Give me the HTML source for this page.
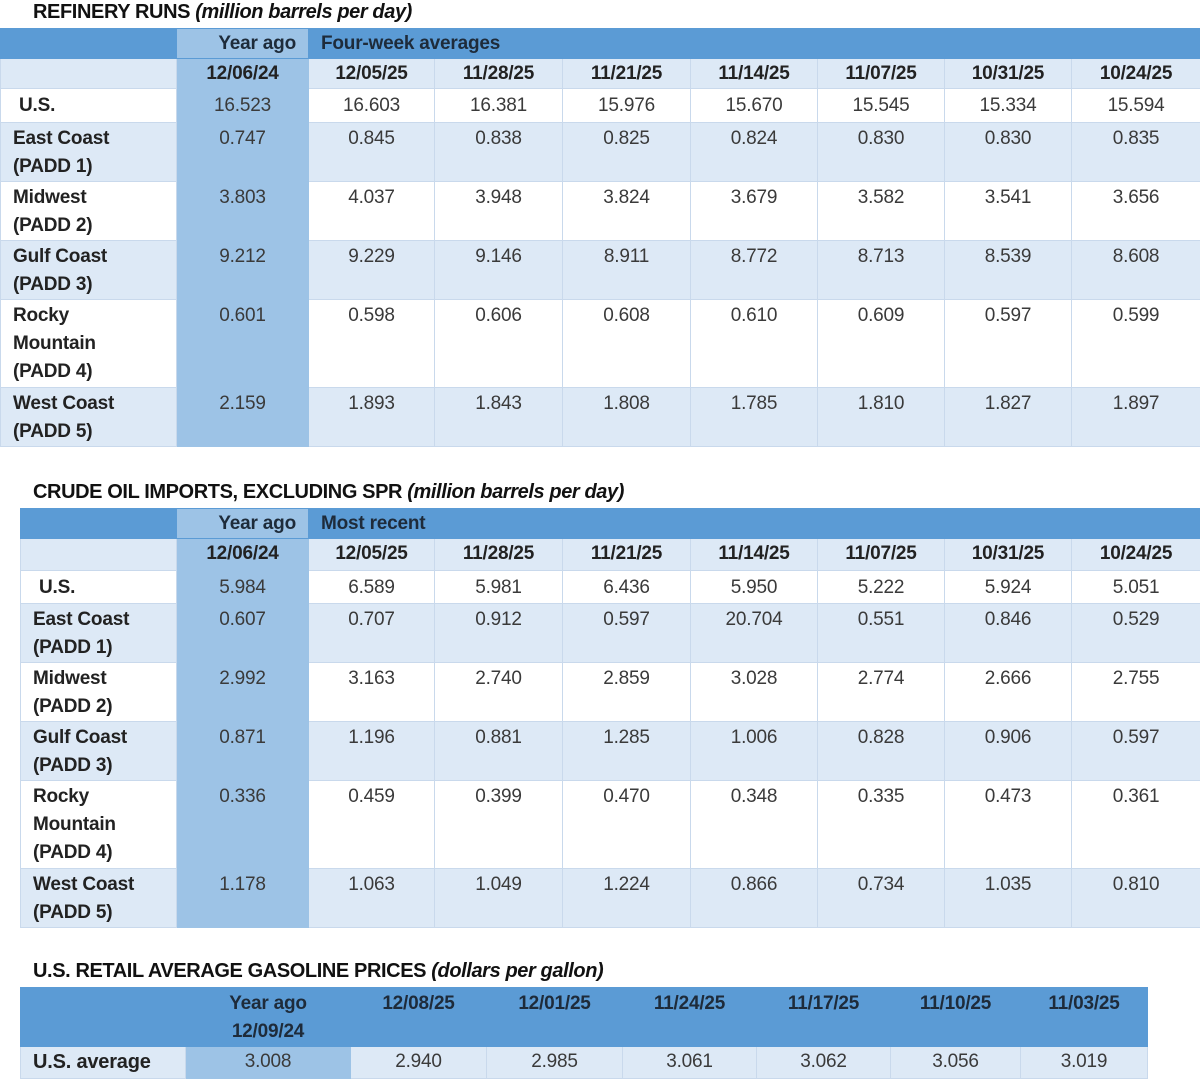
<!DOCTYPE html>
<html><head><meta charset="utf-8"><style>
body{margin:0;background:#fff;width:1200px;height:1086px;position:relative;font-family:"Liberation Sans",sans-serif;color:#3a3a3a;overflow:hidden}
.t{position:absolute;font-weight:bold;font-size:20px;color:#111;letter-spacing:-0.4px}
.t i{font-weight:bold}
table{position:absolute;border-collapse:collapse;table-layout:fixed;font-size:19px;letter-spacing:-0.2px}
td{padding:3px 0 0 0;vertical-align:top;text-align:center;line-height:28px;border:1px solid #c9d9ec;overflow:hidden;white-space:nowrap}
tr.m td{padding-top:2px}
td.l{text-align:left;padding-left:12px;font-weight:bold;color:#222}
tr.h td{background:#5b9bd5;font-weight:bold;color:#1e2b3a;border-color:#5b9bd5;padding-top:1px}
tr.h2 td{background:#dde9f6;font-weight:bold;color:#222;padding-top:1px}
tr.w td{background:#fff}
tr.b td{background:#dde9f6}
td.y{background:#9dc3e6 !important;border-color:#9dc3e6}
tr.h td.hl{text-align:left;padding-left:12px}
</style></head><body>
<div class="t" style="left:33px;top:1px">REFINERY RUNS <i>(million barrels per day)</i></div>
<table style="left:0;top:28px;width:1200px">
<colgroup><col style="width:176px"><col style="width:132px"><col style="width:126px"><col style="width:128px"><col style="width:128px"><col style="width:127px"><col style="width:127px"><col style="width:127px"><col style="width:129px"></colgroup>
<tr class="h" style="height:30px"><td></td><td class="y" style="text-align:right;padding-right:12px">Year ago</td><td colspan="7" class="hl">Four-week averages</td></tr>
<tr class="h2" style="height:30px"><td></td><td class="y">12/06/24</td><td>12/05/25</td><td>11/28/25</td><td>11/21/25</td><td>11/14/25</td><td>11/07/25</td><td>10/31/25</td><td>10/24/25</td></tr>
<tr class="w" style="height:34px"><td class="l" style="padding-left:18px">U.S.</td><td class="y">16.523</td><td>16.603</td><td>16.381</td><td>15.976</td><td>15.670</td><td>15.545</td><td>15.334</td><td>15.594</td></tr>
<tr class="b m" style="height:59px"><td class="l">East Coast<br>(PADD 1)</td><td class="y">0.747</td><td>0.845</td><td>0.838</td><td>0.825</td><td>0.824</td><td>0.830</td><td>0.830</td><td>0.835</td></tr>
<tr class="w m" style="height:59px"><td class="l">Midwest<br>(PADD 2)</td><td class="y">3.803</td><td>4.037</td><td>3.948</td><td>3.824</td><td>3.679</td><td>3.582</td><td>3.541</td><td>3.656</td></tr>
<tr class="b m" style="height:59px"><td class="l">Gulf Coast<br>(PADD 3)</td><td class="y">9.212</td><td>9.229</td><td>9.146</td><td>8.911</td><td>8.772</td><td>8.713</td><td>8.539</td><td>8.608</td></tr>
<tr class="w m" style="height:88px"><td class="l">Rocky<br>Mountain<br>(PADD 4)</td><td class="y">0.601</td><td>0.598</td><td>0.606</td><td>0.608</td><td>0.610</td><td>0.609</td><td>0.597</td><td>0.599</td></tr>
<tr class="b m" style="height:59px"><td class="l">West Coast<br>(PADD 5)</td><td class="y">2.159</td><td>1.893</td><td>1.843</td><td>1.808</td><td>1.785</td><td>1.810</td><td>1.827</td><td>1.897</td></tr>
</table>

<div class="t" style="left:33px;top:481px">CRUDE OIL IMPORTS, EXCLUDING SPR <i>(million barrels per day)</i></div>
<table style="left:20px;top:508px;width:1180px">
<colgroup><col style="width:156px"><col style="width:132px"><col style="width:126px"><col style="width:128px"><col style="width:128px"><col style="width:127px"><col style="width:127px"><col style="width:127px"><col style="width:129px"></colgroup>
<tr class="h" style="height:30px"><td></td><td class="y" style="text-align:right;padding-right:12px">Year ago</td><td colspan="7" class="hl">Most recent</td></tr>
<tr class="h2" style="height:32px"><td></td><td class="y">12/06/24</td><td>12/05/25</td><td>11/28/25</td><td>11/21/25</td><td>11/14/25</td><td>11/07/25</td><td>10/31/25</td><td>10/24/25</td></tr>
<tr class="w" style="height:33px"><td class="l" style="padding-left:18px">U.S.</td><td class="y">5.984</td><td>6.589</td><td>5.981</td><td>6.436</td><td>5.950</td><td>5.222</td><td>5.924</td><td>5.051</td></tr>
<tr class="b m" style="height:59px"><td class="l">East Coast<br>(PADD 1)</td><td class="y">0.607</td><td>0.707</td><td>0.912</td><td>0.597</td><td>20.704</td><td>0.551</td><td>0.846</td><td>0.529</td></tr>
<tr class="w m" style="height:59px"><td class="l">Midwest<br>(PADD 2)</td><td class="y">2.992</td><td>3.163</td><td>2.740</td><td>2.859</td><td>3.028</td><td>2.774</td><td>2.666</td><td>2.755</td></tr>
<tr class="b m" style="height:59px"><td class="l">Gulf Coast<br>(PADD 3)</td><td class="y">0.871</td><td>1.196</td><td>0.881</td><td>1.285</td><td>1.006</td><td>0.828</td><td>0.906</td><td>0.597</td></tr>
<tr class="w m" style="height:88px"><td class="l">Rocky<br>Mountain<br>(PADD 4)</td><td class="y">0.336</td><td>0.459</td><td>0.399</td><td>0.470</td><td>0.348</td><td>0.335</td><td>0.473</td><td>0.361</td></tr>
<tr class="b m" style="height:58px"><td class="l">West Coast<br>(PADD 5)</td><td class="y">1.178</td><td>1.063</td><td>1.049</td><td>1.224</td><td>0.866</td><td>0.734</td><td>1.035</td><td>0.810</td></tr>
</table>

<div class="t" style="left:33px;top:960px">U.S. RETAIL AVERAGE GASOLINE PRICES <i>(dollars per gallon)</i></div>
<table style="left:20px;top:987px;width:1127px">
<colgroup><col style="width:165px"><col style="width:165px"><col style="width:136px"><col style="width:136px"><col style="width:134px"><col style="width:134px"><col style="width:130px"><col style="width:127px"></colgroup>
<tr class="h" style="height:59px"><td></td><td style="padding-top:2px">Year ago<br>12/09/24</td><td style="padding-top:2px">12/08/25</td><td style="padding-top:2px">12/01/25</td><td style="padding-top:2px">11/24/25</td><td style="padding-top:2px">11/17/25</td><td style="padding-top:2px">11/10/25</td><td style="padding-top:2px">11/03/25</td></tr>
<tr class="b" style="height:32px"><td class="l" style="font-size:20px;padding-top:1px">U.S. average</td><td class="y" style="padding-top:1px">3.008</td><td style="padding-top:1px">2.940</td><td style="padding-top:1px">2.985</td><td style="padding-top:1px">3.061</td><td style="padding-top:1px">3.062</td><td style="padding-top:1px">3.056</td><td style="padding-top:1px">3.019</td></tr>
</table>
</body></html>
